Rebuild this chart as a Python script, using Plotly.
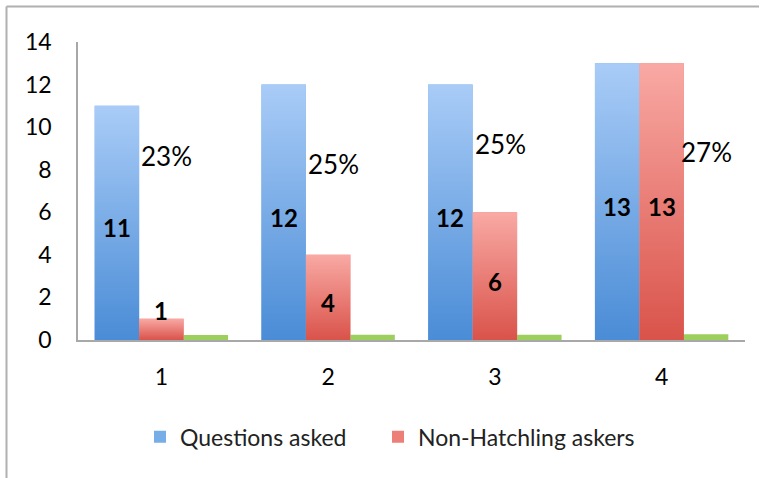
import plotly.graph_objects as go

categories = [1, 2, 3, 4]
questions_asked = [11, 12, 12, 13]
non_hatchling = [1, 4, 6, 13]
pct_values = [0.23, 0.25, 0.25, 0.27]
pct_labels = ["23%", "25%", "25%", "27%"]
pct_label_y = [8.6, 8.2, 9.15, 8.8]
tick_vals = [0, 2, 4, 6, 8, 10, 12, 14]

BLUE_TOP, BLUE_BOT = "#a9ccf7", "#4a8cd6"
RED_TOP, RED_BOT = "#f9a9a4", "#d9534a"
GREEN = "#9ccf5c"
FONT = "Lato, 'Open Sans', sans-serif"

W = 0.8 / 3  # bar width with bargap 0.2, 3 series
offsets = [-W, 0.0, W]

fig = go.Figure()
fig.add_trace(go.Bar(x=categories, y=questions_asked, name="Questions asked", legend="legend",
                     marker=dict(color="#78aee8", line=dict(width=0)), hoverinfo="skip"))
fig.add_trace(go.Bar(x=categories, y=non_hatchling, name="Non-Hatchling askers", legend="legend2",
                     marker=dict(color="#ec7f77", line=dict(width=0)), hoverinfo="skip"))
fig.add_trace(go.Bar(x=categories, y=pct_values, name="Percent", showlegend=False,
                     marker=dict(color=GREEN, line=dict(width=0)), hoverinfo="skip"))

# gradient overlays for each bar (computed from data)
for series, off, top, bot in [(questions_asked, offsets[0], BLUE_TOP, BLUE_BOT),
                              (non_hatchling, offsets[1], RED_TOP, RED_BOT)]:
    for c, v in zip(categories, series):
        x0, x1 = c + off - W / 2, c + off + W / 2
        fig.add_trace(go.Scatter(
            x=[x0, x1, x1, x0, x0], y=[0, 0, v, v, 0], mode="lines",
            line=dict(width=0), fill="toself", showlegend=False, hoverinfo="skip",
            fillgradient=dict(type="vertical", start=0, stop=v,
                              colorscale=[[0, bot], [1, top]])))

# value labels
for series, off in [(questions_asked, offsets[0]), (non_hatchling, offsets[1])]:
    for c, v in zip(categories, series):
        fig.add_annotation(x=c + off, y=max(v / 2, 1.6), text=f"<b>{v}</b>", showarrow=False,
                           xanchor="center", yanchor="middle", yshift=-5,
                           font=dict(family=FONT, size=24, color="black"))

# percent labels
for i, (c, lab, y) in enumerate(zip(categories, pct_labels, pct_label_y)):
    base = offsets[0] + W / 2 if i < 3 else offsets[1] + W / 2
    fig.add_annotation(x=c + base, y=y, text=lab, showarrow=False, xanchor="left",
                       yanchor="middle", xshift=0 if i < 3 else -5, yshift=1,
                       font=dict(family=FONT, size=26, color="black"))

L, R, T, B = 78, 23, 42, 138
pw = 768 - L - R
ph = 478 - T - B
# partial frame (left and top edges)
fig.add_shape(type="line", xref="paper", yref="paper",
              x0=(6.5 - L) / pw, x1=(6.5 - L) / pw, y0=(478 - B - 480) / ph, y1=(478 - B - 6.5) / ph,
              line=dict(color="#b0b0b0", width=2))
fig.add_shape(type="line", xref="paper", yref="paper",
              x0=(6.5 - L) / pw, x1=(759 - L) / pw, y0=(478 - B - 6.5) / ph, y1=(478 - B - 6.5) / ph,
              line=dict(color="#b0b0b0", width=2))

legend_common = dict(orientation="h", y=-0.325, yanchor="middle", xanchor="left",
                     font=dict(family=FONT, size=23, color="#222"), itemwidth=30,
                     bgcolor="rgba(0,0,0,0)")
fig.update_layout(
    width=768, height=478,
    margin=dict(l=L, r=R, t=T, b=B),
    paper_bgcolor="white", plot_bgcolor="white",
    barmode="group", bargap=0.2, bargroupgap=0,
    font=dict(family=FONT, size=20, color="black"),
    showlegend=True,
    legend=dict(x=(140 - L) / pw, **legend_common),
    legend2=dict(x=(378 - L) / pw, **legend_common),
    xaxis=dict(range=[0.5, 4.5], tickvals=categories, ticktext=[str(c) for c in categories],
               showgrid=False, zeroline=False, showline=True, linecolor="#a8a8a8", linewidth=1.5,
               ticks="", ticklabelstandoff=16, tickfont=dict(family=FONT, size=23)),
    yaxis=dict(range=[0, 14], tickvals=tick_vals, showgrid=False, zeroline=False,
               showline=True, linecolor="#a8a8a8", linewidth=1.5, ticks="",
               ticklabelstandoff=20, tickfont=dict(family=FONT, size=23)),
)
fig.write_html("out.html", config={"displayModeBar": False},
               post_script="document.body.style.margin='0';document.body.style.overflow='hidden';")
